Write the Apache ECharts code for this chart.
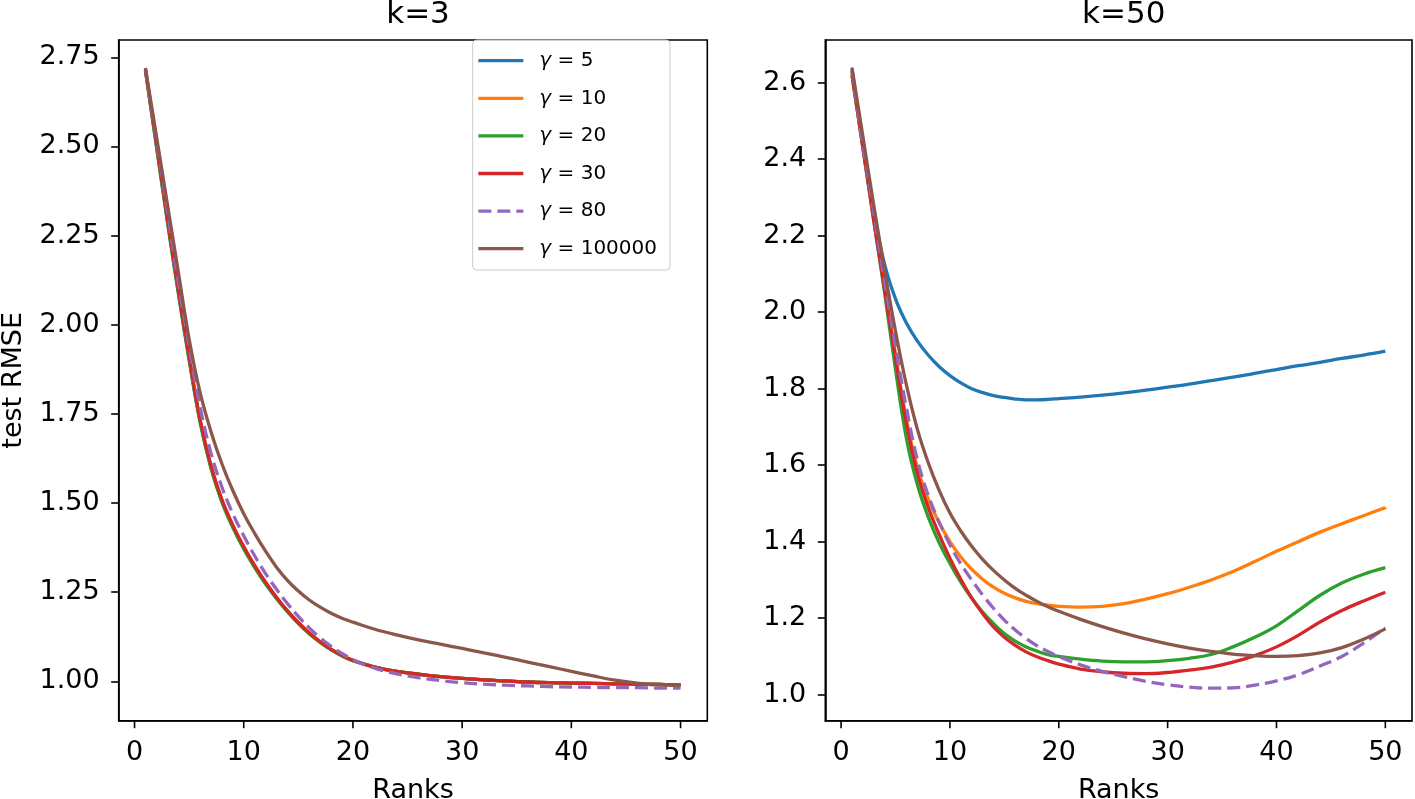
<!DOCTYPE html>
<html><head><meta charset="utf-8">
<script src="https://cdn.jsdelivr.net/npm/echarts@6/dist/echarts.min.js"></script>
<style>html,body{margin:0;padding:0;background:#fff}#c{width:1415px;height:799px}</style>
</head><body><div id="c"></div>
<script>
// ---------- data ----------
const ranks = [1,2,3,4,5,6,7,8,9,10,11,12,13,14,15,16,17,18,19,20,22,24,26,28,30,32,34,36,38,40,42,44,46,48,50];
const seriesNames = ['γ = 5','γ = 10','γ = 20','γ = 30','γ = 80','γ = 100000'];
const xTicks = [0,10,20,30,40,50];
const k3Ticks = [1.00,1.25,1.50,1.75,2.00,2.25,2.50,2.75];
const k50Ticks = [1.0,1.2,1.4,1.6,1.8,2.0,2.2,2.4,2.6];

// k = 3
const k3Gamma5      = [2.715,2.505,2.295,2.095,1.905,1.730,1.600,1.505,1.433,1.373,1.321,1.275,1.233,1.196,1.163,1.134,1.110,1.089,1.072,1.058,1.040,1.028,1.020,1.013,1.008,1.004,1.001,0.998,0.996,0.995,0.994,0.993,0.992,0.991,0.990];
const k3Gamma10     = [2.715,2.508,2.298,2.098,1.908,1.733,1.603,1.508,1.436,1.376,1.323,1.277,1.235,1.197,1.164,1.135,1.110,1.089,1.072,1.058,1.040,1.028,1.020,1.013,1.008,1.004,1.001,0.998,0.996,0.995,0.994,0.993,0.992,0.991,0.990];
const k3Gamma20     = [2.712,2.500,2.290,2.090,1.900,1.727,1.597,1.502,1.431,1.371,1.319,1.273,1.232,1.195,1.162,1.133,1.109,1.088,1.071,1.058,1.040,1.028,1.020,1.013,1.008,1.004,1.001,0.998,0.996,0.995,0.994,0.993,0.992,0.991,0.990];
const k3Gamma30     = [2.715,2.510,2.300,2.100,1.910,1.735,1.605,1.510,1.438,1.378,1.325,1.278,1.236,1.198,1.165,1.136,1.111,1.090,1.073,1.059,1.040,1.028,1.020,1.013,1.008,1.004,1.001,0.998,0.996,0.995,0.994,0.993,0.992,0.991,0.990];
const k3Gamma80     = [2.715,2.520,2.320,2.120,1.940,1.770,1.640,1.545,1.470,1.408,1.352,1.302,1.258,1.218,1.182,1.150,1.122,1.098,1.078,1.061,1.037,1.021,1.010,1.002,0.996,0.992,0.989,0.987,0.985,0.984,0.983,0.982,0.982,0.981,0.981];
const k3Gamma100000 = [2.720,2.530,2.340,2.150,1.960,1.810,1.700,1.610,1.535,1.470,1.415,1.365,1.320,1.283,1.253,1.228,1.208,1.191,1.177,1.166,1.146,1.130,1.116,1.104,1.092,1.080,1.067,1.054,1.041,1.028,1.015,1.003,0.995,0.991,0.989];

// k = 50
const k50Gamma5      = [2.635,2.440,2.260,2.125,2.035,1.972,1.925,1.888,1.858,1.834,1.815,1.800,1.790,1.782,1.777,1.773,1.771,1.771,1.772,1.774,1.778,1.783,1.789,1.796,1.804,1.812,1.821,1.830,1.840,1.850,1.860,1.869,1.879,1.888,1.898];
const k50Gamma10     = [2.630,2.440,2.250,2.070,1.890,1.720,1.595,1.512,1.450,1.400,1.360,1.328,1.302,1.281,1.265,1.253,1.244,1.238,1.234,1.231,1.229,1.231,1.238,1.250,1.264,1.281,1.300,1.322,1.348,1.375,1.400,1.425,1.447,1.468,1.489];
const k50Gamma20     = [2.620,2.430,2.240,2.050,1.850,1.670,1.550,1.465,1.398,1.343,1.294,1.252,1.216,1.186,1.160,1.140,1.125,1.114,1.105,1.100,1.093,1.088,1.086,1.086,1.089,1.095,1.105,1.125,1.150,1.180,1.220,1.260,1.292,1.315,1.332];
const k50Gamma30     = [2.620,2.430,2.240,2.060,1.880,1.710,1.580,1.490,1.420,1.357,1.302,1.253,1.212,1.177,1.150,1.129,1.112,1.099,1.089,1.080,1.067,1.060,1.056,1.055,1.058,1.064,1.072,1.085,1.102,1.125,1.155,1.190,1.220,1.245,1.268];
const k50Gamma80     = [2.630,2.440,2.260,2.080,1.910,1.750,1.615,1.522,1.452,1.392,1.342,1.300,1.261,1.226,1.195,1.169,1.147,1.128,1.113,1.100,1.078,1.061,1.047,1.035,1.026,1.020,1.017,1.018,1.025,1.036,1.052,1.075,1.100,1.135,1.175];
const k50Gamma100000 = [2.640,2.460,2.280,2.110,1.950,1.810,1.695,1.607,1.535,1.475,1.428,1.388,1.354,1.325,1.300,1.278,1.260,1.244,1.230,1.218,1.197,1.178,1.161,1.146,1.133,1.122,1.113,1.106,1.102,1.100,1.102,1.109,1.123,1.145,1.172];

// ---------- chart ----------
const k3Data = [k3Gamma5,k3Gamma10,k3Gamma20,k3Gamma30,k3Gamma80,k3Gamma100000];
const k50Data = [k50Gamma5,k50Gamma10,k50Gamma20,k50Gamma30,k50Gamma80,k50Gamma100000];
const colors = ['#1f77b4','#ff7f0e','#2ca02c','#d62728','#9467bd','#8c564b'];
const FONT = 'DejaVu Sans';
const TICKFS = 27;
const TICKLEN = 7.5;
const TICKW = 1.6;
const yRanges = [[0.8895, 2.7985], [0.932, 2.7116]];

function mkSeries(vals, i, gi) {
  return {
    name: seriesNames[i], type: 'line', xAxisIndex: gi, yAxisIndex: gi,
    data: ranks.map((r, j) => [r, vals[j]]),
    symbol: 'none', showSymbol: false, smooth: 0.4,
    lineStyle: { color: colors[i], width: 3.3, type: i === 4 ? [13, 6] : 'solid', cap: 'butt' },
    itemStyle: { color: colors[i] },
    z: 2 + i, animation: false, emphasis: { disabled: true }
  };
}

// x-axis tick marks, placed through the axis scale
function xTickSeries(gi) {
  const yMin = yRanges[gi][0];
  return {
    type: 'custom', xAxisIndex: gi, yAxisIndex: gi, clip: false, silent: true, z: 20,
    data: xTicks.map(v => [v, yMin]),
    encode: { x: 0, y: 1 },
    renderItem: (params, api) => {
      const p = api.coord([api.value(0), api.value(1)]);
      return { type: 'line', shape: { x1: p[0], y1: p[1], x2: p[0], y2: p[1] + TICKLEN },
               style: { stroke: '#000', lineWidth: TICKW } };
    },
    animation: false, tooltip: { show: false }
  };
}

const axisLine = { show: true, onZero: false, lineStyle: { color: '#000', width: TICKW } };

function xAxis(gi) {
  return {
    type: 'value', gridIndex: gi, min: -1.45, max: 52.45,
    name: 'Ranks', nameLocation: 'middle', nameGap: 57,
    nameTextStyle: { fontFamily: FONT, fontSize: TICKFS, color: '#000' },
    axisLine: axisLine, splitLine: { show: false },
    axisTick: { show: false },
    axisLabel: { customValues: xTicks, margin: 19, fontFamily: FONT, fontSize: TICKFS, color: '#000' }
  };
}
function yAxis(gi, ticks, dec, name) {
  return {
    type: 'value', gridIndex: gi, min: yRanges[gi][0], max: yRanges[gi][1],
    name: name || '', nameLocation: 'middle', nameGap: 91,
    nameTextStyle: { fontFamily: FONT, fontSize: TICKFS, color: '#000' },
    axisLine: axisLine, splitLine: { show: false },
    axisTick: { show: true, customValues: ticks, length: TICKLEN, lineStyle: { color: '#000', width: TICKW } },
    axisLabel: { customValues: ticks, margin: 19, fontFamily: FONT, fontSize: TICKFS, color: '#000',
      formatter: v => Number(v).toFixed(dec) }
  };
}

const chart = echarts.init(document.getElementById('c'), null, { renderer: 'canvas' });
chart.setOption({
  animation: false,
  backgroundColor: '#fff',
  title: [
    { text: 'k=3', left: 413, top: -6, textAlign: 'center', textStyle: { fontFamily: FONT, fontSize: 31, fontWeight: 'normal', color: '#000' } },
    { text: 'k=50', left: 1118.7, top: -6, textAlign: 'center', textStyle: { fontFamily: FONT, fontSize: 31, fontWeight: 'normal', color: '#000' } }
  ],
  grid: [
    { left: 118.7, right: 1415 - 707.3, top: 40, bottom: 78.3, show: true, borderColor: '#000', borderWidth: TICKW, backgroundColor: 'transparent', outerBoundsMode: 'none', containLabel: false },
    { left: 825.3, right: 3, top: 40, bottom: 78.3, show: true, borderColor: '#000', borderWidth: TICKW, backgroundColor: 'transparent', outerBoundsMode: 'none', containLabel: false }
  ],
  xAxis: [xAxis(0), xAxis(1)],
  yAxis: [yAxis(0, k3Ticks, 2, 'test RMSE'), yAxis(1, k50Ticks, 1)],
  legend: {
    show: true, orient: 'vertical', left: 472.7, top: 40,
    data: seriesNames,
    itemWidth: 45, itemHeight: 22, itemGap: 15.6,
    padding: [9.7, 13, 10.3, 4],
    backgroundColor: 'rgba(255,255,255,0.8)', borderColor: '#cccccc', borderWidth: 1, borderRadius: 4,
    selectedMode: false,
    itemStyle: { opacity: 0, borderWidth: 0 },
    lineStyle: { width: 3.3 },
    formatter: n => '{g|γ}' + n.slice(1),
    textStyle: { fontFamily: FONT, fontSize: 20, color: '#000', lineHeight: 22, padding: [0, 0, 0, 11],
      rich: { g: { fontFamily: FONT, fontSize: 20, fontStyle: 'italic', color: '#000', lineHeight: 22 } } }
  },
  series: [
    ...k3Data.map((v, i) => mkSeries(v, i, 0)),
    ...k50Data.map((v, i) => mkSeries(v, i, 1)),
    xTickSeries(0), xTickSeries(1)
  ]
});
</script>
</body></html>
